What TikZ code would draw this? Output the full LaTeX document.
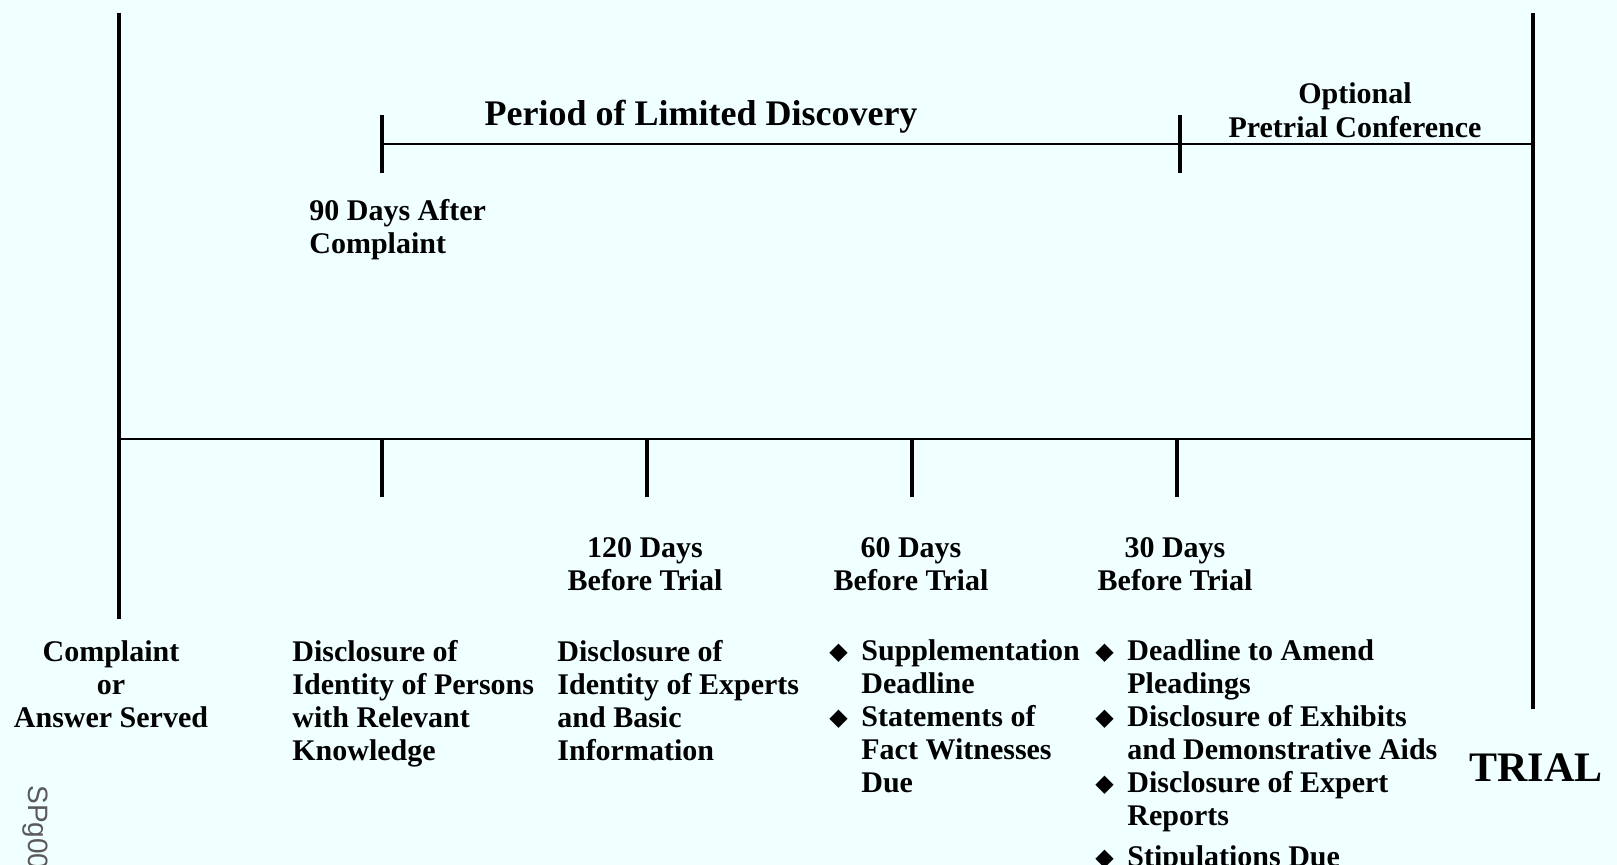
\documentclass[tikz,border=0pt]{standalone}
\usepackage{fontspec}
\setmainfont{Liberation Serif}
\setsansfont{Liberation Sans}
\newfontfamily\symfont{DejaVu Sans}
\usetikzlibrary{positioning}
\definecolor{paper}{RGB}{240,255,255}
\newcommand{\gem}{\makebox[15pt][l]{\hspace*{-1pt}\raisebox{0.6pt}{\fontsize{12}{12}\symfont ◆}}}

\begin{document}
\begin{tikzpicture}[x=0.5pt,y=-0.5pt,
    every node/.style={inner sep=0pt,font=\bfseries\fontsize{15}{16.5}\selectfont},
    post/.style={line width=2pt},
    rule/.style={line width=1.1pt},
    tick/.style={line width=1.6pt},
    note/.style={align=left,anchor=north west},
    when/.style={align=center,anchor=north}]
  \fill[paper] (0,0) rectangle (1617,865);
  \useasboundingbox (0,0) rectangle (1617,865);
  \clip (0,0) rectangle (1617,865);
  % start and trial posts
  \coordinate (start-top) at (119,13);
  \coordinate (start-bot) at (119,619);
  \coordinate (trial-top) at (1533,13);
  \coordinate (trial-bot) at (1533,709);
  \draw[post] (start-top) -- (start-bot);
  \draw[post] (trial-top) -- (trial-bot);
  % main time line
  \coordinate (main-l) at (119,439);
  \coordinate (main-r) at (1533,439);
  \draw[rule] (main-l) -- (main-r);
  \foreach \x/\n in {382/p90,647/p120,912/p60,1177/p30} {
    \coordinate (\n) at (\x,439);
    \coordinate (\n-end) at (\x,497);
    \draw[tick] (\n) -- (\n-end);
  }
  % discovery line
  \coordinate (disc-l) at (382,144);
  \coordinate (disc-r) at (1533,144);
  \draw[rule] (disc-l) -- (disc-r);
  \coordinate (u90-a) at (382,115);
  \coordinate (u90-b) at (382,173);
  \coordinate (u30-a) at (1180,115);
  \coordinate (u30-b) at (1180,173);
  \draw[tick] (u90-a) -- (u90-b);
  \draw[tick] (u30-a) -- (u30-b);
  % labels
  \node[font=\bfseries\fontsize{18}{20}\selectfont] (period) at (701,117) {Period of Limited Discovery};
  \node[when,font=\bfseries\fontsize{15}{17}\selectfont] (optional) at (1355,82) {Optional\\Pretrial Conference};
  \node[note] (d90) at (309,199) {90 Days After\\Complaint};
  \node[when] (d120) at (645,537) {120 Days\\Before Trial};
  \node[when] (d60) at (911,537) {60 Days\\Before Trial};
  \node[when] (d30) at (1175,537) {30 Days\\Before Trial};
  \node[when] (served) at (111,640) {Complaint\\or\\Answer Served};
  \node[note] (persons) at (292,640) {Disclosure of\\Identity of Persons\\with Relevant\\Knowledge};
  \node[note] (experts) at (557,640) {Disclosure of\\Identity of Experts\\and Basic\\Information};
  \node[note] (due60) at (831,637) {\begin{tabular}{@{}l@{}l@{}}
      \gem & Supplementation\\
           & Deadline\\
      \gem & Statements of\\
           & Fact Witnesses\\
           & Due
    \end{tabular}};
  \node[note] (due30) at (1097,637) {\begin{tabular}{@{}l@{}l@{}}
      \gem & Deadline to Amend\\
           & Pleadings\\
      \gem & Disclosure of Exhibits\\
           & and Demonstrative Aids\\
      \gem & Disclosure of Expert\\
           & Reports\\[4pt]
      \gem & Stipulations Due
    \end{tabular}};
  \node[font=\bfseries\fontsize{21}{24}\selectfont] (trial) at (1536,768) {TRIAL};
  \node[font=\sffamily\fontsize{14}{16}\selectfont,text=black!65,rotate=-90,anchor=base west] (code) at (28,785) {SPg00};
\end{tikzpicture}
\end{document}
